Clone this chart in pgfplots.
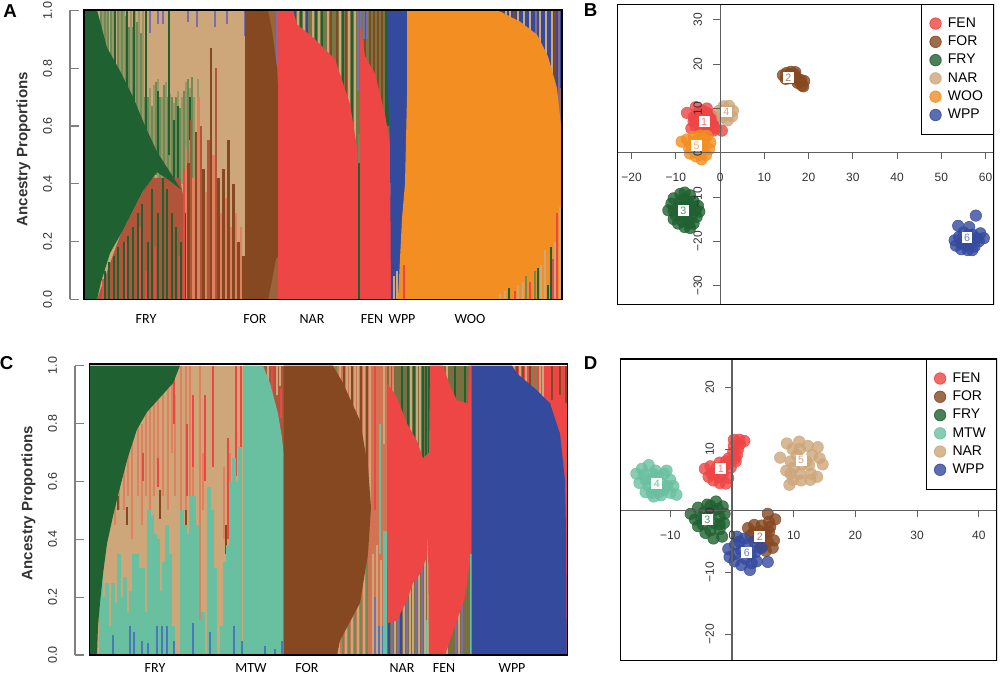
\documentclass[border=0pt]{standalone}
\usepackage{fontspec}
\usepackage{pgfplots}
\pgfplotsset{compat=1.18}
\setmainfont{Liberation Sans}
\newfontfamily\calibri{Carlito}

\definecolor{cG}{HTML}{1F6130}
\definecolor{cO}{HTML}{6E8B55}
\definecolor{cT}{HTML}{CDA67A}
\definecolor{cS}{HTML}{E0805F}
\definecolor{cRb}{HTML}{B0553A}
\definecolor{cB}{HTML}{864820}
\definecolor{cR}{HTML}{EE4545}
\definecolor{cY}{HTML}{F38E22}
\definecolor{cW}{HTML}{344A9D}
\definecolor{cP}{HTML}{7A6FA8}
\definecolor{cM}{HTML}{69C0A0}
\definecolor{cL}{HTML}{4A78B8}
\definecolor{cV}{HTML}{8E6A80}
\definecolor{cK}{HTML}{333333}

\tikzset{lab/.style={fill=white,inner sep=0pt,minimum size=8.2pt,text=#1,
    font=\fontsize{8}{9}\selectfont}}
\pgfplotsset{
  table/sx/.style={header=false,x index=0,y index=1,y error index=2,row sep=\\},
  stripe/.style 2 args={draw=none,no marks,forget plot,
    error bars/y dir=plus,error bars/y explicit,error bars/error mark=none,
    error bars/error bar style={draw=#1,line width=#2,solid}},
  area/.style={fill=#1,draw=none,forget plot},
  bars/.style={scale only axis,axis on top,axis line style={black,line width=1pt},
    ytick=\empty,major tick length=0pt,
    xticklabel style={font=\calibri\fontsize{10.5}{12}\selectfont}},
  yside/.style={scale only axis,width=1pt,xmin=0,xmax=1,ymin=0,ymax=1,
    axis x line=none,axis y line*=left,
    axis line style={draw=gray,line width=.9pt},
    tick style={draw=gray,line width=.9pt},major tick length=6.5pt,
    ytick={0,.2,.4,.6,.8,1},yticklabels={0.0,0.2,0.4,0.6,0.8,1.0},
    yticklabel style={rotate=90,anchor=south,font=\fontsize{9.4}{11}\selectfont,text=cK,yshift=10pt},
    ylabel={Ancestry Proportions},
    ylabel style={font=\bfseries\fontsize{11.3}{13}\selectfont,text=cK}},
  pcaplot/.style={scale only axis,hide axis,
    legend style={at={(1,1)},anchor=north east,draw=black,line width=.6pt,
      font=\fontsize{10.5}{12}\selectfont,row sep=.95pt,inner ysep=8pt,inner xsep=6pt,
      /tikz/every odd column/.append style={column sep=3pt},
      cells={anchor=west}}},
  pca/.style={scale only axis,axis lines=center,
    hide obscured x ticks=false,hide obscured y ticks=false,
    axis line style={-,draw=gray!75!black,line width=.8pt},
    tick style={draw=gray!75!black,line width=.7pt},
    major tick length=5pt,tick align=outside,
    xticklabel style={font=\fontsize{9}{11}\selectfont,text=cK,yshift=-7pt},
    yticklabel style={font=\fontsize{9}{11}\selectfont,text=cK,rotate=90,anchor=south,yshift=5pt}},
  pt/.style={only marks,mark=*,mark size=4.3pt,
    mark options={draw=#1,fill=#1,fill opacity=.8,draw opacity=.85}}
}

\begin{document}
\begin{tikzpicture}
\path[use as bounding box] (0,0) rectangle (750pt,505.5pt);

\node[font=\bfseries\fontsize{14}{16}\selectfont] at (7.5pt,497pt) {A};
\node[font=\bfseries\fontsize{14}{16}\selectfont] at (443pt,498pt) {B};
\node[font=\bfseries\fontsize{14}{16}\selectfont] at (5pt,233pt) {C};
\node[font=\bfseries\fontsize{14}{16}\selectfont] at (443pt,233pt) {D};

% panel A
\begin{axis}[bars,at={(63pt,280.875pt)},anchor=south west,width=358.5pt,height=217.125pt,
  xmin=84,xmax=562,ymin=0,ymax=1,xticklabel style={yshift=-7.5pt},
  xtick={146,255,312,372,402,470},xticklabels={FRY,FOR,NAR,FEN,WPP,WOO}]
\addplot[area=cT] coordinates {(84,0)(245,0)(245,1)(84,1)} --cycle;
% upper stripes in FRY
\addplot[stripe={cO!55!cT}{1.4pt}] table[sx] {103 .5 .5\\ 107 .5 .5\\ 113 .5 .5\\ 120 .5 .5\\ 124 .5 .5\\ 131 .5 .5\\ 135 .5 .5\\ 139 .5 .5\\ 143 .5 .5\\ 150 .4 .33\\ 154 .4 .34\\ 158 .4 .36\\ 162 .4 .3\\ 166 .4 .35\\ 170 .4 .31\\ 174 .4 .28\\ 178 .4 .32\\ 182 .4 .3\\ 186 .4 .35\\ 190 .4 .33\\ 194 .4 .3\\ 198 .4 .36\\};
\addplot[stripe={cO}{1.6pt}] table[sx] {101 .85 .15\\ 105 .8 .2\\ 108 .8 .2\\ 111 .75 .25\\ 118 .7 .3\\ 122 .7 .3\\ 126 .65 .33\\ 129 .64 .3\\ 133 .6 .34\\ 137 .56 .4\\ 141 .52 .4\\ 145 .5 .2\\ 148 .48 .22\\ 152 .45 .22\\ 156 .43 .32\\ 160 .4 .3\\ 164 .4 .34\\ 168 .38 .32\\ 172 .37 .33\\ 176 .36 .34\\ 180 .33 .33\\ 184 .3 .42\\ 188 .38 .38\\ 192 .42 .35\\};
\addplot[stripe={cG}{1pt}] table[sx] {115 .7 .3\\ 127 .7 .3\\ 134 .6 .4\\ 146 .55 .45\\ 169 .5 .5\\ 158 .5 .22\\ 174 .42 .2\\ 178 .42 .25\\ 190 .55 .15\\};
\addplot[stripe={cP}{1.2pt}] table[sx] {150 .92 .08\\ 158 .95 .05\\ 163 .95 .05\\ 188 .96 .04\\ 197 .94 .06\\ 215 .94 .06\\ 227 .95 .05\\ 245 .91 .09\\};
% lower stripes
\addplot[area=cRb] coordinates {(97,0)(120,.22)(150,.42)(180,.42)(186,.3)(186,0)} --cycle;
\addplot[area=cS!75!cB] coordinates {(186,0)(186,.4)(210,.35)(230,.2)(245,.12)(245,0)} --cycle;
\addplot[stripe={cS}{2pt}] table[sx] {186 0 .52\\ 193.5 0 .42\\ 198.5 0 .7\\ 206 0 .37\\ 213.5 0 .5\\ 221 0 .3\\ 226 0 .35\\ 231 0 .25\\ 236 0 .3\\ 241 0 .25\\};
\addplot[stripe={cB}{2pt}] table[sx] {188.5 0 .47\\ 196 0 .58\\ 203.5 0 .45\\ 211 0 .87\\ 218.5 0 .42\\ 223.5 0 .45\\ 228.5 0 .55\\ 233.5 0 .4\\ 238.5 0 .2\\ 243.5 0 .15\\};
\addplot[stripe={cRb}{2pt}] table[sx] {191 0 .62\\ 201 0 .6\\ 208.5 0 .55\\ 216 0 .8\\};
\addplot[area=cG] coordinates {(84,0)(84,1)(97,1)(107,.87)(120,.79)(133,.70)(145,.60)(157,.51)(170,.44)(181,.38)(170,.41)(157,.44)(143,.375)(123,.24)(110,.16)(101,.06)(97,0)} --cycle;
\addplot[stripe={cG}{1.5pt}] table[sx] {105 0 .1\\ 109 0 .13\\ 114 0 .15\\ 118 0 .18\\ 124 0 .2\\ 128 0 .22\\ 133 0 .25\\ 138 0 .3\\ 142 0 .33\\ 148 0 .2\\ 152 0 .38\\ 158 0 .3\\ 163 0 .42\\ 167 0 .38\\ 172 0 .3\\ 176 0 .25\\ 181 0 .2\\ 185 0 .3\\};
\addplot[stripe={cR}{1.2pt}] table[sx] {103 0 .07\\ 126 0 .2\\ 140 0 .25\\ 146 0 .1\\ 155 0 .18\\ 179 0 .15\\ 184 0 .45\\};
% FOR
\addplot[area=cB!70!cT] coordinates {(262,0)(279,0)(279,1)(262,1)} --cycle;
\addplot[stripe={cP}{1.3pt}] table[sx] {277 .8 .2\\};
\addplot[area=cB] coordinates {(245,0)(245,1)(268,1)(272,.93)(277,.8)(278.5,.7)(278.5,.15)(276,.14)(270,.03)(268,0)} --cycle;
% NAR and FEN
\addplot[area=cO!70!cB] coordinates {(278,0)(390,0)(390,1)(278,1)} --cycle;
\addplot[stripe={cT}{1.5pt}] table[sx] {298 .5 .5\\ 304 .5 .5\\ 313 .5 .5\\ 319 .5 .5\\ 328 .5 .5\\ 340 .5 .5\\ 349 .5 .5\\ 355 .4 .6\\};
\addplot[stripe={cG}{1.5pt}] table[sx] {301 .5 .5\\ 316 .5 .5\\ 322 .5 .5\\ 343 .5 .5\\ 352 .5 .5\\ 386 .6 .4\\ 388 .6 .4\\};
\addplot[stripe={cW}{1.5pt}] table[sx] {295 .8 .2\\ 307 .8 .2\\};
\addplot[stripe={cB}{1.5pt}] table[sx] {331 .5 .5\\ 337 .5 .5\\ 346 .5 .5\\ 365 .5 .5\\ 370 .5 .5\\ 374 .5 .5\\ 378 .5 .5\\ 382 .5 .5\\};
\addplot[stripe={cP}{1.5pt}] table[sx] {358 .72 .28\\ 361 .9 .1\\ 364 .9 .1\\ 367 .9 .1\\};
\addplot[area=cR] coordinates {(278,0)(278,1)(293,1)(297,.95)(313,.905)(335,.83)(350,.675)(357,.525)(358,.45)(358,0)} --cycle;
\addplot[area=cR] coordinates {(360,0)(360,.94)(361,.93)(365,.84)(375,.78)(385,.64)(390,.535)(391,.3)(391,0)} --cycle;
\addplot[stripe={cG}{1.6pt}] table[sx] {359 0 .5\\};
\addplot[stripe={cO}{1.6pt}] table[sx] {359 .47 .1\\};
% WPP and WOO
\addplot[area=cW] coordinates {(387,1)(410,1)(410,.4)(398,0)(391,0)(390,.535)(387,.8)} --cycle;
\addplot[area=cW] coordinates {(490,.5)(562,.5)(562,1)(490,1)} --cycle;
\addplot[stripe={cT}{1.5pt}] table[sx] {497 .5 .5\\ 506 .5 .5\\ 510 .5 .5\\ 518 .5 .5\\ 524 .5 .5\\ 530 .5 .5\\ 540 .5 .5\\ 546 .5 .5\\ 552 .5 .5\\};
\addplot[stripe={cB}{1.5pt}] table[sx] {502 .5 .5\\ 514 .5 .5\\ 555 .5 .5\\};
\addplot[stripe={cV}{1.6pt}] table[sx] {536 .5 .5\\ 559 .5 .5\\ 561.5 .5 .23\\};
\addplot[area=cY] coordinates {(407,1)(493,1)(500,.995)(520,.96)(537,.915)(548,.84)(557,.73)(562,.57)(562,0)(398,0)(402,.28)(405,.4)(407,.7)} --cycle;
\addplot[stripe={cT}{1.3pt}] table[sx] {394 0 .08\\ 397 0 .1\\ 500 0 .02\\ 505 0 .03\\ 518 0 .05\\ 523 0 .06\\ 541 0 .12\\ 545 0 .17\\ 555 0 .2\\ 560 0 .32\\};
\addplot[stripe={cG}{1.3pt}] table[sx] {509 0 .04\\ 538 0 .11\\ 548 0 .05\\ 551 0 .18\\};
\addplot[stripe={cR}{1.2pt}] table[sx] {404 0 .12\\ 515 0 .03\\ 530 0 .06\\ 553 0 .14\\ 557 0 .3\\};
\addplot[stripe={cO}{1.3pt}] table[sx] {526 0 .08\\ 535 0 .1\\};
\end{axis}
\begin{axis}[yside,at={(52.5pt,280.875pt)},anchor=south west,height=216.75pt,
  ylabel style={at={(rel axis cs:0,.52)},yshift=26pt}]
\addplot[draw=none,forget plot] coordinates {(0,0)(1,1)};
\end{axis}

% panel B
\begin{axis}[pcaplot,at={(462.75pt,276.75pt)},anchor=south west,width=282.75pt,height=225.75pt,
  xmin=-23.3,xmax=61.9,ymin=-34.4,ymax=33.6]
\addplot[pt=cR] coordinates {(-7.5,9)(-5.5,10.3)(-4,9.5)(-3,10)(-6,8)(-4,8)(-2,8.5)(-5,6.5)(-3,6.5)(-1.5,6.5)(-6.5,5.5)(-4.5,5)(-2.5,5)(-1,5.5)(0.4,5)(-5.5,7.5)(-3.5,7)(-2,7.5)(-1,7.8)(-5,9)(-3,9)(-5.5,5.8)(-3.5,5.5)(-2,6)(-4.5,7.5)(-6,7)(-1.5,5)};
\addplot[pt=cB] coordinates {(14.2,17.5)(15,18)(16,18.3)(17,18.2)(15.5,16.8)(16.5,16.8)(17.5,16.7)(18,16)(19,16.2)(18.5,15.2)(17.5,15.8)(15.2,17)(16.8,17.7)(14.8,16.7)(18.8,15)(15.8,17.6)(17,17.2)(18.3,16.4)};
\addplot[pt=cG] coordinates {(-11.7,-13)(-11,-11.5)(-10.5,-10.3)(-9,-9.3)(-8,-9)(-6.8,-9.6)(-6,-11)(-5,-12)(-4.7,-13.3)(-5.3,-14.5)(-6,-16)(-6.8,-17)(-8,-16.8)(-9.5,-16)(-10.5,-15)(-8.3,-12)(-7,-13)(-9,-14)(-7.5,-15)(-9.5,-12.5)(-6.3,-14)(-10.5,-13)(-8,-10.5)(-6.5,-12)(-8,-14)(-9,-11)(-10,-14.2)(-7,-16)(-8.5,-15.5)(-5.5,-13)(-7.3,-11)};
\addplot[pt=cT] coordinates {(-.2,9.5)(.8,10.5)(2,10.6)(2.9,9.5)(2.7,8.2)(1.7,7.3)(.5,8)(1.2,9.2)(1.8,8.5)(.5,9.5)};
\addplot[pt=cY] coordinates {(-8.7,2.5)(-7.5,3)(-6,3.6)(-4.5,3.9)(-3,3.8)(-2.2,2.3)(-2.5,.8)(-3.2,-.5)(-4.2,-1.5)(-5.5,-.8)(-6.8,-.2)(-7,1)(-5.5,1.5)(-4,2)(-3.8,.6)(-6,2.5)(-5,.3)(-3.5,3)(-5,3)(-6.5,1.5)(-4.5,-.5)};
\addplot[pt=cW] coordinates {(57.8,-14.2)(53.8,-16.5)(56.3,-16.8)(55,-18)(53,-19.8)(53.3,-21)(54.5,-21.8)(56,-22)(57.5,-21.2)(58.5,-20)(59.6,-19.3)(58.8,-18.2)(57,-18.5)(55.5,-20)(54,-19)(56.8,-20)(54.5,-20.5)(56,-18.6)(58,-19.3)(55.5,-21)(57,-22)(56,-20)};
\legend{FEN,FOR,FRY,NAR,WOO,WPP}
\end{axis}
\begin{axis}[pca,at={(462.75pt,276.75pt)},anchor=south west,width=282.75pt,height=225.75pt,
  xmin=-23.3,xmax=61.9,ymin=-34.4,ymax=33.6,
  xtick={-20,-10,0,10,20,30,40,50,60},xticklabels={−20,−10,0,10,20,30,40,50,60},
  ytick={-30,-20,-10,0,10,20,30},yticklabels={−30,−20,−10,0,10,20,30}]
\node[lab=cR!70] at (axis cs:-3.6,7) {1};
\node[lab=cB!70] at (axis cs:15.4,17) {2};
\node[lab=cG!70] at (axis cs:-8.3,-13.1) {3};
\node[lab=cT] at (axis cs:1.4,9.2) {4};
\node[lab=cY!70] at (axis cs:-5.3,1.6) {5};
\node[lab=cW!70] at (axis cs:55.8,-19.2) {6};
\draw[black,line width=1pt] (rel axis cs:0,0) rectangle (rel axis cs:1,1);
\end{axis}

% panel C
\begin{axis}[bars,at={(67.125pt,14.25pt)},anchor=south west,width=358.65pt,height=218.25pt,
  xmin=89.5,xmax=567.7,ymin=0,ymax=1.006,xticklabel style={yshift=-2.8pt},
  xtick={155,251,307,402,444,512},xticklabels={FRY,MTW,FOR,NAR,FEN,WPP}]
\addplot[area=cT] coordinates {(90,0)(264,0)(264,1)(90,1)} --cycle;
\addplot[stripe={cS}{1.6pt}] table[sx] {115 .45 .1\\ 119 .5 .15\\ 124 .5 .2\\ 128 .55 .2\\ 132 .4 .35\\ 138 .55 .25\\ 142 .45 .35\\ 146 .55 .3\\ 150 .45 .4\\ 154 .55 .35\\ 158 .6 .3\\ 163 .55 .37\\ 168 .5 .45\\ 172 .7 .3\\ 175 .55 .35\\ 181 .45 .55\\ 186 .42 .58\\ 190 .5 .5\\ 193 .5 .4\\ 200 .1 .9\\ 203 .5 .2\\ 224 .4 .25\\ 230 .3 .4\\};
\addplot[stripe={cR}{1.3pt}] table[sx] {143 .6 .1\\ 158 .58 .1\\ 174 .8 .18\\ 187 .55 .25\\ 193 .65 .25\\ 205 .6 .3\\ 213 .65 .35\\ 228 .4 .35\\ 236 .62 .38\\ 241 .6 .4\\};
\addplot[stripe={cB}{1.3pt}] table[sx] {127 .45 .06\\ 118 .5 .05\\ 160 .47 .1\\ 186 .43 .07\\ 193 .4 .1\\ 226 .35 .1\\ 232 .38 .12\\ 240 .55 .05\\ 165 .2 .12\\ 125 .04 .08\\};
\addplot[stripe={cM}{2.4pt}] table[sx] {101 0 .28\\ 104 0 .2\\ 107 0 .25\\ 110 0 .1\\ 113 0 .25\\ 116 0 .18\\ 119 0 .35\\ 122 0 .2\\ 125 0 .27\\ 128 0 .15\\ 131 0 .22\\ 134 0 .35\\ 137 0 .35\\ 140 0 .3\\ 143 0 .3\\ 146 0 .15\\ 149 0 .5\\ 152 0 .48\\ 155 0 .42\\ 158 0 .4\\ 161 0 .22\\ 164 0 .32\\ 167 0 .45\\ 170 0 .35\\ 173 0 .1\\ 182 0 .5\\ 185 0 .45\\ 188 0 .42\\ 191 0 .55\\ 194 0 .55\\ 197 0 .45\\ 200 0 .12\\ 203 0 .15\\ 209 0 .58\\ 212 0 .5\\ 215 0 .3\\ 222 0 .1\\ 225 0 .32\\ 228 0 .38\\ 231 0 .6\\ 234 0 .68\\ 237 0 .6\\ 240 0 .72\\};
\addplot[stripe={cL}{1.3pt}] table[sx] {113 0 .07\\ 130 0 .1\\ 134 0 .08\\ 142 0 .05\\ 148 0 .04\\ 157 0 .1\\ 162 0 .1\\ 167 0 .1\\ 174 0 .05\\ 193 0 .11\\ 210 0 .08\\ 234 0 .1\\ 242 0 .05\\};
\addplot[area=cG] coordinates {(90,0)(90,1)(180,1)(173,.94)(160,.89)(147,.84)(137,.78)(128,.685)(120,.58)(113,.48)(107,.385)(103,.28)(100,.18)(98,.1)(97,0)} --cycle;
% MTW and FOR
\addplot[area=cRb] coordinates {(263,0)(284,0)(284,1)(263,1)} --cycle;
\addplot[stripe={cR}{1.6pt}] table[sx] {281 .82 .1\\ 272 .9 .1\\};
\addplot[stripe={cT}{1.4pt}] table[sx] {268 .9 .1\\ 277 .9 .1\\ 280 .93 .07\\};
\addplot[area=cM] coordinates {(243,0)(243,1)(263,1)(270,.94)(278,.835)(282,.75)(283.5,.7)(283.5,0)} --cycle;
\addplot[stripe={cL}{1.3pt}] table[sx] {265 0 .03\\ 275 0 .02\\ 282 0 .05\\};
\addplot[area=cS!70!cRb] coordinates {(333,0)(388,0)(388,1)(333,1)} --cycle;
\addplot[stripe={cT}{2pt}] table[sx] {340 .4 .6\\ 347 .4 .6\\ 350 .4 .6\\ 355 .4 .6\\ 358 .4 .6\\ 364 .4 .6\\ 370 .5 .5\\ 384 .73 .27\\ 339 0 .5\\ 346 0 .5\\ 352 0 .5\\ 358 0 .5\\ 364 0 .5\\ 373 0 .35\\ 377 0 .38\\ 381 0 .33\\};
\addplot[stripe={cO}{1.6pt}] table[sx] {336 .4 .6\\ 343 0 .5\\ 349 0 .5\\ 355 0 .5\\ 361 0 .5\\ 367 0 .5\\};
\addplot[stripe={cB}{1.6pt}] table[sx] {344 .4 .6\\ 352 .4 .6\\ 361 .4 .6\\ 367 .4 .6\\};
\addplot[stripe={cR}{1.6pt}] table[sx] {375 .5 .5\\};
\addplot[stripe={cP}{1.3pt}] table[sx] {375 0 .2\\};
\addplot[stripe={cL}{1.3pt}] table[sx] {379 0 .1\\ 383 0 .1\\};
\addplot[area=cB] coordinates {(283.5,0)(283.5,1)(333,1)(343,.94)(360,.81)(368,.65)(371,.51)(368,.35)(360,.18)(340,.05)(337,0)} --cycle;
\addplot[area=cM] coordinates {(383,0)(383,.43)(387.5,.43)(387.5,0)} --cycle;
\addplot[stripe={cM}{1.2pt}] table[sx] {380 .35 .45\\};
% NAR, FEN and WPP
\addplot[area=cO!60!cB] coordinates {(387,0)(472,0)(472,1)(387,1)} --cycle;
\addplot[stripe={cS}{1.6pt}] table[sx] {390 .5 .5\\ 393 .5 .5\\};
\addplot[stripe={cG}{1.6pt}] table[sx] {402 .5 .5\\ 408 .5 .5\\ 414 .5 .5\\ 423 .5 .5\\ 426 .5 .5\\ 429 .5 .5\\ 455 .5 .5\\ 465 .5 .5\\};
\addplot[stripe={cT}{1.6pt}] table[sx] {411 .5 .5\\ 417 .5 .5\\ 420 .5 .5\\ 447 .5 .5\\ 395 0 .5\\ 404 0 .5\\ 410 0 .5\\ 413 0 .5\\ 419 0 .5\\ 425 0 .5\\ 428 0 .43\\ 447 0 .1\\ 459 0 .5\\};
\addplot[stripe={cP}{1.6pt}] table[sx] {392 0 .5\\ 398 0 .5\\ 407 0 .5\\ 416 0 .5\\ 422 0 .5\\ 456 0 .5\\ 462 0 .5\\};
\addplot[stripe={cW}{1.6pt}] table[sx] {389 0 .5\\ 401 0 .5\\};
\addplot[area=cR] coordinates {(387,.5)(387,.94)(397,.89)(407,.8)(417,.74)(423,.68)(429,.7)(430,1)(443,1)(450,.93)(457,.88)(468,.87)(469,1)(472,1)(472,.5)(471,.35)(465,.2)(452,.07)(445,0)(429,0)(428,.42)(427,.34)(420,.28)(413,.25)(407,.19)(397,.12)(388,.11)} --cycle;
\addplot[stripe={cM}{1.3pt}] table[sx] {471 0 .35\\ 426.5 0 .12\\};
\addplot[area=cR] coordinates {(512,0)(567.7,0)(567.7,1)(512,1)} --cycle;
\addplot[stripe={cT}{1.6pt}] table[sx] {514 .8 .2\\ 520 .8 .2\\ 526 .8 .2\\ 540 .8 .2\\ 543 .8 .2\\};
\addplot[stripe={cB}{1.6pt}] table[sx] {517 .8 .2\\ 523 .8 .2\\ 530 .8 .2\\ 552 .88 .12\\ 565.8 .87 .13\\ 560 .9 .1\\};
\addplot[stripe={cO}{1.6pt}] table[sx] {533 .8 .2\\ 536 .8 .2\\};
\addplot[area=cW] coordinates {(471.5,0)(471.5,1)(512,1)(518,.97)(537,.915)(550,.87)(560,.765)(565,.605)(566,.43)(566.7,0)} --cycle;
\end{axis}
\begin{axis}[yside,at={(56.25pt,14.25pt)},anchor=south west,height=216.98pt,
  ylabel style={at={(rel axis cs:0,.525)},yshift=26pt}]
\addplot[draw=none,forget plot] coordinates {(0,0)(1,1)};
\end{axis}

% panel D
\begin{axis}[pcaplot,at={(465pt,9.975pt)},anchor=south west,width=282.75pt,height=226.3pt,
  xmin=-18.15,xmax=42.95,ymin=-24.3,ymax=24.59]
\addplot[pt=cR] coordinates {(-4.4,6.8)(-3.5,7.2)(-2.5,6.9)(-1.5,7.1)(-.8,7.5)(-3.8,5.5)(-3,4.9)(-2,4.5)(-1,4.4)(-.6,5.3)(-1.5,6)(-2.8,6)(.3,11.5)(1.2,11.5)(2,11.3)(1,10)(.8,9)(.5,8.5)(-.5,8.5)(-1,8)(.6,8)(-3.3,6)(-2,5.5)(.3,10.5)(-.2,7)(-2,7.8)(1.3,10.8)(.2,9.5)};
\addplot[pt=cB] coordinates {(5.8,-.5)(7,-1.4)(6.2,-2.6)(2.6,-2.8)(3.6,-2.3)(4.8,-2.4)(6,-3.4)(6.8,-4.8)(6.6,-6)(5.5,-6.5)(4.5,-6)(3,-4)(4,-4.5)(5,-4.2)(5.8,-5)(4.5,-3.3)(3.5,-3.5)(5.5,-3.6)(5,-5.5)(6,-1.8)};
\addplot[pt=cG] coordinates {(-6.7,-.5)(-5.5,.5)(-4,1)(-2.6,1.5)(-1.5,.7)(-1.2,-.5)(-1.3,-2)(-2,-3)(-3,-4.5)(-1.6,-4.2)(-4.3,-3.6)(-5.5,-2.5)(-6,-1.4)(-4,-1)(-3,0)(-3,-2)(-4.5,-.2)(-2,-1)(-5,-1.2)(-3.5,-3.2)(-2.3,.3)(-4.8,-2.2)(-2,-2.2)(-3.5,.8)};
\addplot[pt=cM] coordinates {(-15.5,6)(-14.6,6.8)(-13.5,7.4)(-12.4,6.5)(-10.6,6.5)(-10,5)(-9.5,4)(-9,2.6)(-10,2.9)(-11.5,2.5)(-12.7,2.3)(-14,3)(-15,4.5)(-13,5)(-11.5,4.5)(-12.5,3.7)(-11,6)(-14,5)(-12.8,6)(-11,3.4)(-13.5,4)(-14.3,5.8)(-10.5,4)(-12,5.4)(-11.8,3)(-13,2.9)};
\addplot[pt=cT] coordinates {(7.8,8.6)(8.9,10.9)(10.9,11.2)(12.3,10.5)(13.9,10.3)(14.2,8.5)(14.7,7.5)(13.8,5.5)(12.7,5)(11.2,4.9)(9.9,5)(9.3,4.2)(8.8,6.5)(10.5,9)(12,8)(10,7)(12.5,7.4)(9.5,8)(11,10)(13,9)(11,6)(12.8,6)(9.8,10)(11.3,7.5)(9.5,6)};
\addplot[pt=cW] coordinates {(-.6,-6.2)(-.4,-7.5)(.8,-4.2)(2,-4.5)(3.6,-5)(4.8,-6)(5.8,-8.3)(4,-8.2)(2.9,-9.6)(1.5,-8.8)(.4,-8.2)(1.5,-6.5)(3,-7)(.5,-5.5)(2.2,-7.8)(3.8,-6.7)(.5,-7)(2.5,-5.5)(1.2,-5)(3.2,-8.5)};
\legend{FEN,FOR,FRY,MTW,NAR,WPP}
\end{axis}
\begin{axis}[pca,at={(465pt,9.975pt)},anchor=south west,width=282.75pt,height=226.3pt,
  xmin=-18.15,xmax=42.95,ymin=-24.3,ymax=24.59,
  xtick={-10,0,10,20,30,40},xticklabels={−10,0,10,20,30,40},
  ytick={-20,-10,0,10,20},yticklabels={−20,−10,0,10,20}]
\node[lab=cR!70] at (axis cs:-1.8,6.8) {1};
\node[lab=cB!70] at (axis cs:4.5,-4.2) {2};
\node[lab=cG!70] at (axis cs:-4,-1.4) {3};
\node[lab=cM] at (axis cs:-12.2,4.4) {4};
\node[lab=cT] at (axis cs:11.2,8.2) {5};
\node[lab=cW!70] at (axis cs:2.4,-6.8) {6};
\draw[black,line width=1.4pt] (rel axis cs:0,0) rectangle (rel axis cs:1,1);
\end{axis}
\end{tikzpicture}
\end{document}
